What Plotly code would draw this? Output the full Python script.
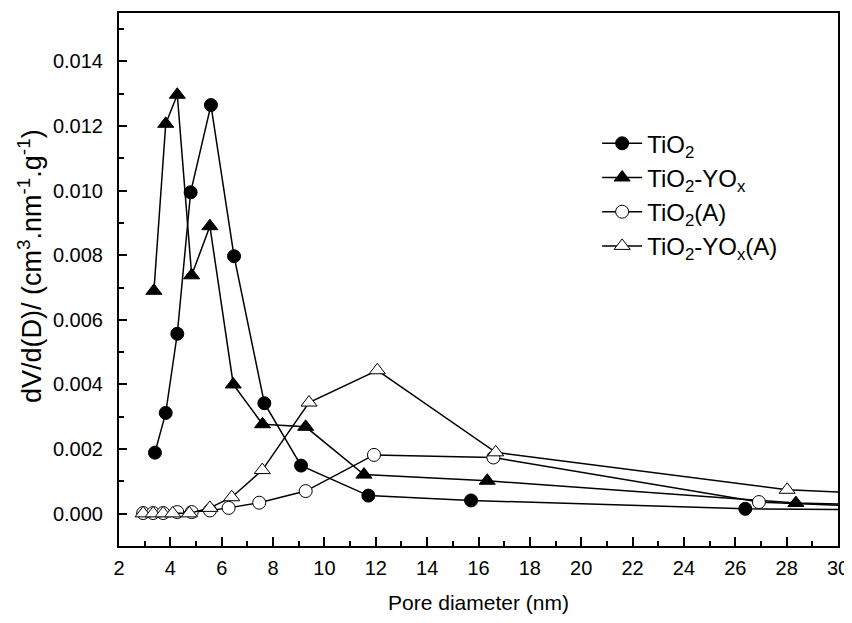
import plotly.graph_objects as go

# TiO2 (filled circles)
tio2_x = [3.40, 3.82, 4.27, 4.79, 5.58, 6.48, 7.66, 9.09, 11.71, 15.71, 26.39, 34.0]
tio2_y = [0.00189, 0.00312, 0.00557, 0.00995, 0.01265, 0.00797, 0.00342, 0.00149, 0.00056, 0.00041, 0.00015, 0.00011]

# TiO2-YOx (filled triangles)
tiyo_x = [3.36, 3.82, 4.27, 4.83, 5.54, 6.45, 7.59, 9.27, 11.54, 16.34, 28.36, 34.0]
tiyo_y = [0.0069, 0.01207, 0.01297, 0.00738, 0.0089, 0.0040, 0.00277, 0.00269, 0.00121, 0.00102, 0.00033, 0.00022]

# TiO2(A) (open circles)
tioa_x = [2.94, 3.33, 3.72, 4.27, 4.83, 5.54, 6.27, 7.46, 9.27, 11.93, 16.58, 26.92, 34.0]
tioa_y = [0.00002, 0.00002, 0.00002, 0.00005, 0.00005, 0.00010, 0.00018, 0.00034, 0.00070, 0.00182, 0.00174, 0.00036, 0.00013]

# TiO2-YOx(A) (open triangles)
tiyoa_x = [2.94, 3.33, 3.72, 4.09, 4.74, 5.54, 6.39, 7.58, 9.40, 12.06, 16.67, 28.02, 34.0]
tiyoa_y = [0.00001, 0.00001, 0.00001, 0.00001, 0.00001, 0.00018, 0.00051, 0.00135, 0.00344, 0.00444, 0.00190, 0.00074, 0.00053]

names = ["TiO<sub>2</sub>", "TiO<sub>2</sub>-YO<sub>x</sub>", "TiO<sub>2</sub>(A)", "TiO<sub>2</sub>-YO<sub>x</sub>(A)"]
x_title = "Pore diameter (nm)"
y_title = "dV/d(D)/ (cm<sup>3</sup>.nm<sup>-1</sup>.g<sup>-1</sup>)"

fig = go.Figure()
specs = [
    (tio2_x, tio2_y, "circle", "black", 13),
    (tiyo_x, tiyo_y, "triangle-up", "black", 14),
    (tioa_x, tioa_y, "circle", "white", 13),
    (tiyoa_x, tiyoa_y, "triangle-up", "white", 14),
]
for (xs, ys, sym, fill, sz), nm in zip(specs, names):
    fig.add_trace(go.Scatter(
        x=xs, y=ys, name=nm, mode="lines+markers",
        line=dict(color="black", width=1.5),
        marker=dict(symbol=sym, size=sz, color=fill, line=dict(color="black", width=1)),
        cliponaxis=True,
    ))

font_family = "Liberation Sans, Arial, sans-serif"
# the page body has an 8px margin, so the figure is sized to fit the 852x623 window
fig.update_layout(
    width=844, height=615,
    margin=dict(l=111, r=14, t=5, b=77),
    paper_bgcolor="white", plot_bgcolor="white",
    font=dict(family=font_family, color="black", size=20),
    legend=dict(
        x=0.665, y=0.797, xanchor="left", yanchor="top",
        font=dict(size=24), bgcolor="rgba(0,0,0,0)", itemwidth=40,
        tracegroupgap=0,
    ),
    xaxis=dict(
        range=[2, 30], tickmode="linear", tick0=2, dtick=2,
        ticks="inside", ticklen=9, tickwidth=1.5, tickcolor="black",
        minor=dict(ticks="inside", ticklen=5, dtick=1, tickwidth=1.5, tickcolor="black"),
        showline=True, linecolor="black", linewidth=2, mirror=True,
        showgrid=False, zeroline=False, automargin=False,
        tickfont=dict(size=20), ticklabelstandoff=3,
        title=dict(text=x_title, font=dict(size=21), standoff=17),
    ),
    yaxis=dict(
        range=[-0.001, 0.0155], tickmode="linear", tick0=0, dtick=0.002,
        tickformat=".3f",
        ticks="inside", ticklen=8, tickwidth=1.5, tickcolor="black",
        minor=dict(ticks="inside", ticklen=5, dtick=0.001, tickwidth=1.5, tickcolor="black"),
        showline=True, linecolor="black", linewidth=2, mirror=True,
        showgrid=False, zeroline=False, automargin=False,
        tickfont=dict(size=20), ticklabelstandoff=10,
    ),
)
fig.add_annotation(
    text=y_title, textangle=-90, showarrow=False,
    xref="paper", yref="paper", x=-0.124, y=0.525,
    xanchor="center", yanchor="middle",
    font=dict(size=27, family=font_family, color="black"),
)

fig.write_html("out.html")
